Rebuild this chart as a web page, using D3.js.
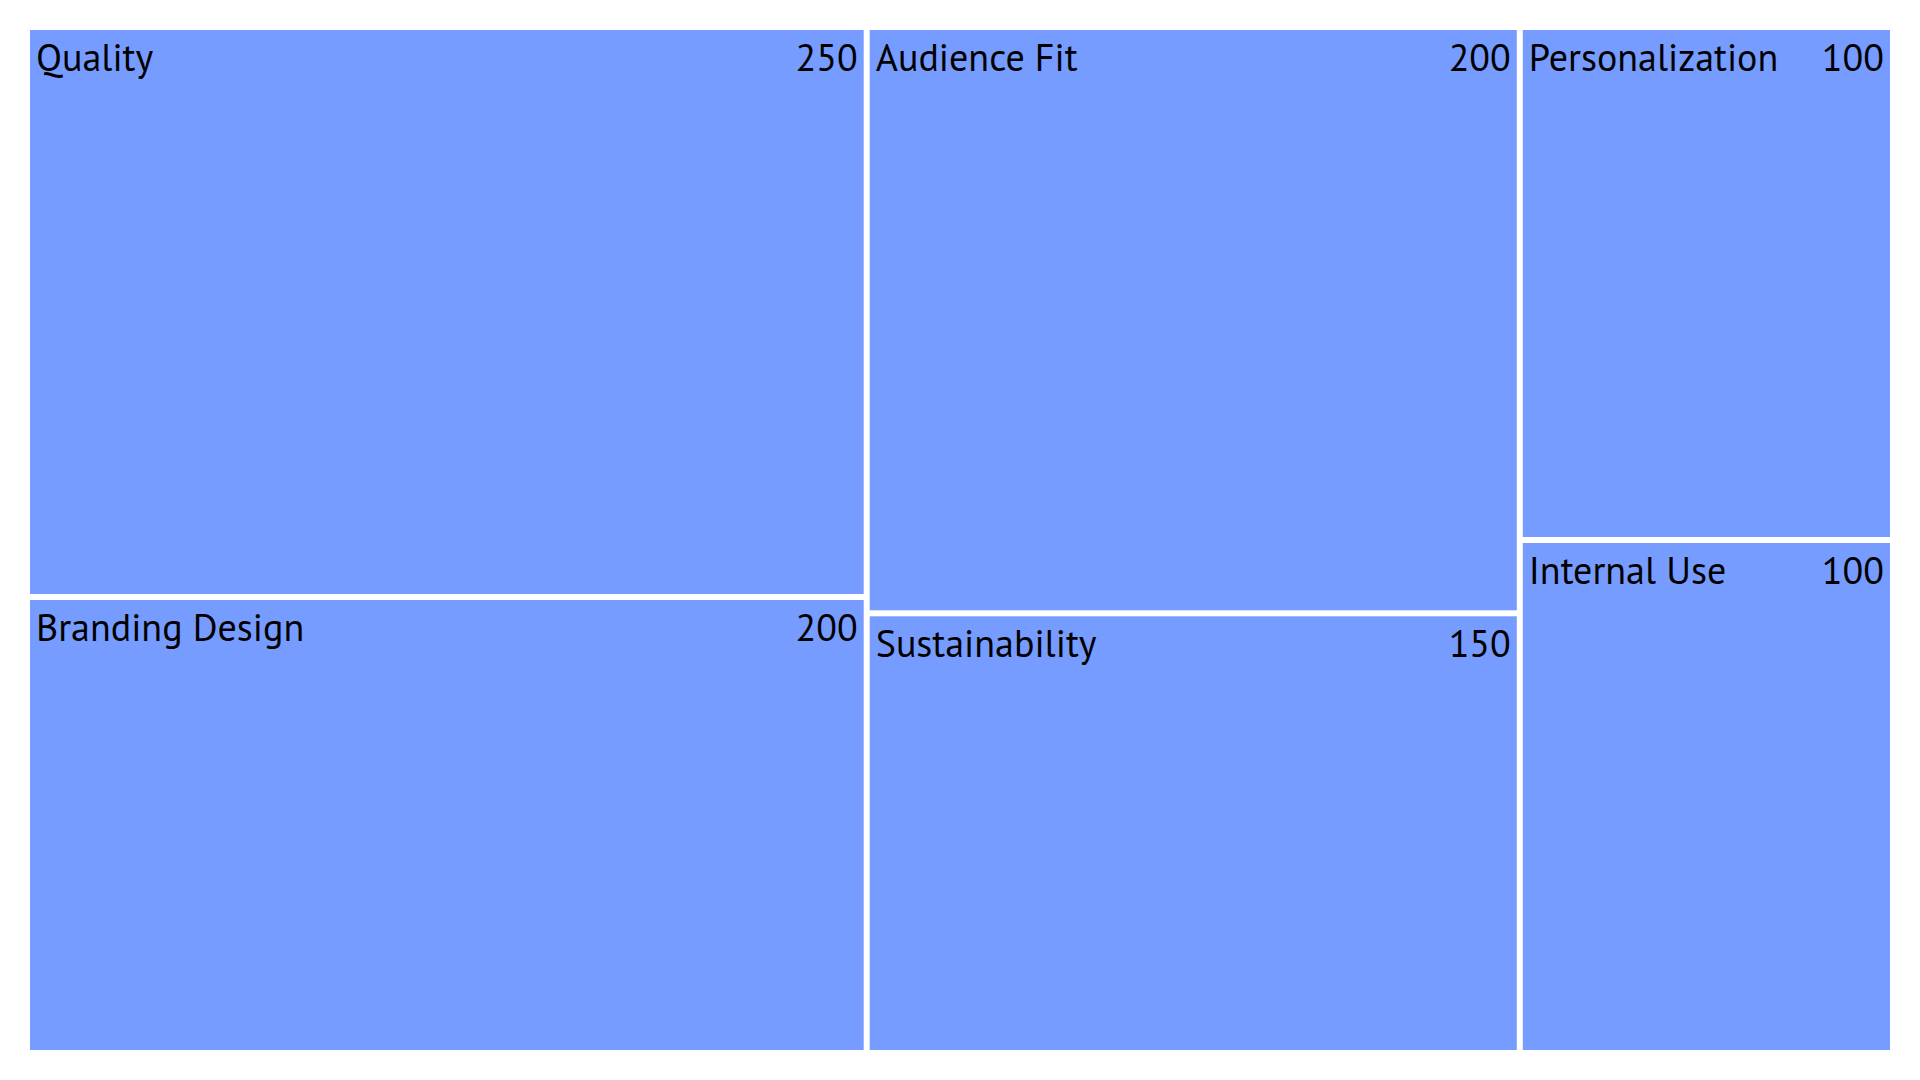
<!DOCTYPE html>
<html>
<head>
<meta charset="utf-8">
<script src="https://cdn.jsdelivr.net/npm/d3@7"></script>
<style>
html,body{margin:0;padding:0;background:#fff;}
svg{display:block;}
</style>
</head>
<body>
<svg id="chart" width="1920" height="1080"></svg>
<script>
const categories = ["Quality", "Branding Design", "Audience Fit", "Sustainability", "Personalization", "Internal Use"];
const values = [250, 200, 200, 150, 100, 100];

const W = 1920, H = 1080;
const margin = {top: 30, right: 30, bottom: 30, left: 30};
const svg = d3.select("#chart");

const root = d3.hierarchy({name: "root", children: categories.map((c, i) => ({name: c, value: values[i]}))})
  .sum(d => d.value || 0)
  .sort((a, b) => b.value - a.value);

d3.treemap()
  .size([W - margin.left - margin.right, H - margin.top - margin.bottom])
  .paddingInner(6)
  .tile(d3.treemapSquarify)(root);

const g = svg.append("g").attr("transform", `translate(${margin.left},${margin.top})`);
const cell = g.selectAll("g.cell").data(root.leaves()).join("g").attr("class", "cell")
  .attr("transform", d => `translate(${d.x0},${d.y0})`);

cell.append("rect")
  .attr("width", d => d.x1 - d.x0)
  .attr("height", d => d.y1 - d.y0)
  .attr("fill", "#769cff");

const font = "'PT Sans', 'Noto Sans', 'Open Sans', sans-serif";
cell.append("text")
  .attr("x", 6).attr("y", 41)
  .attr("font-family", font).attr("font-size", 38).attr("fill", "#000")
  .text(d => d.data.name);
cell.append("text")
  .attr("x", d => d.x1 - d.x0 - 6).attr("y", 41)
  .attr("text-anchor", "end")
  .attr("font-family", font).attr("font-size", 38).attr("fill", "#000")
  .text(d => d.data.value);
</script>
</body>
</html>
